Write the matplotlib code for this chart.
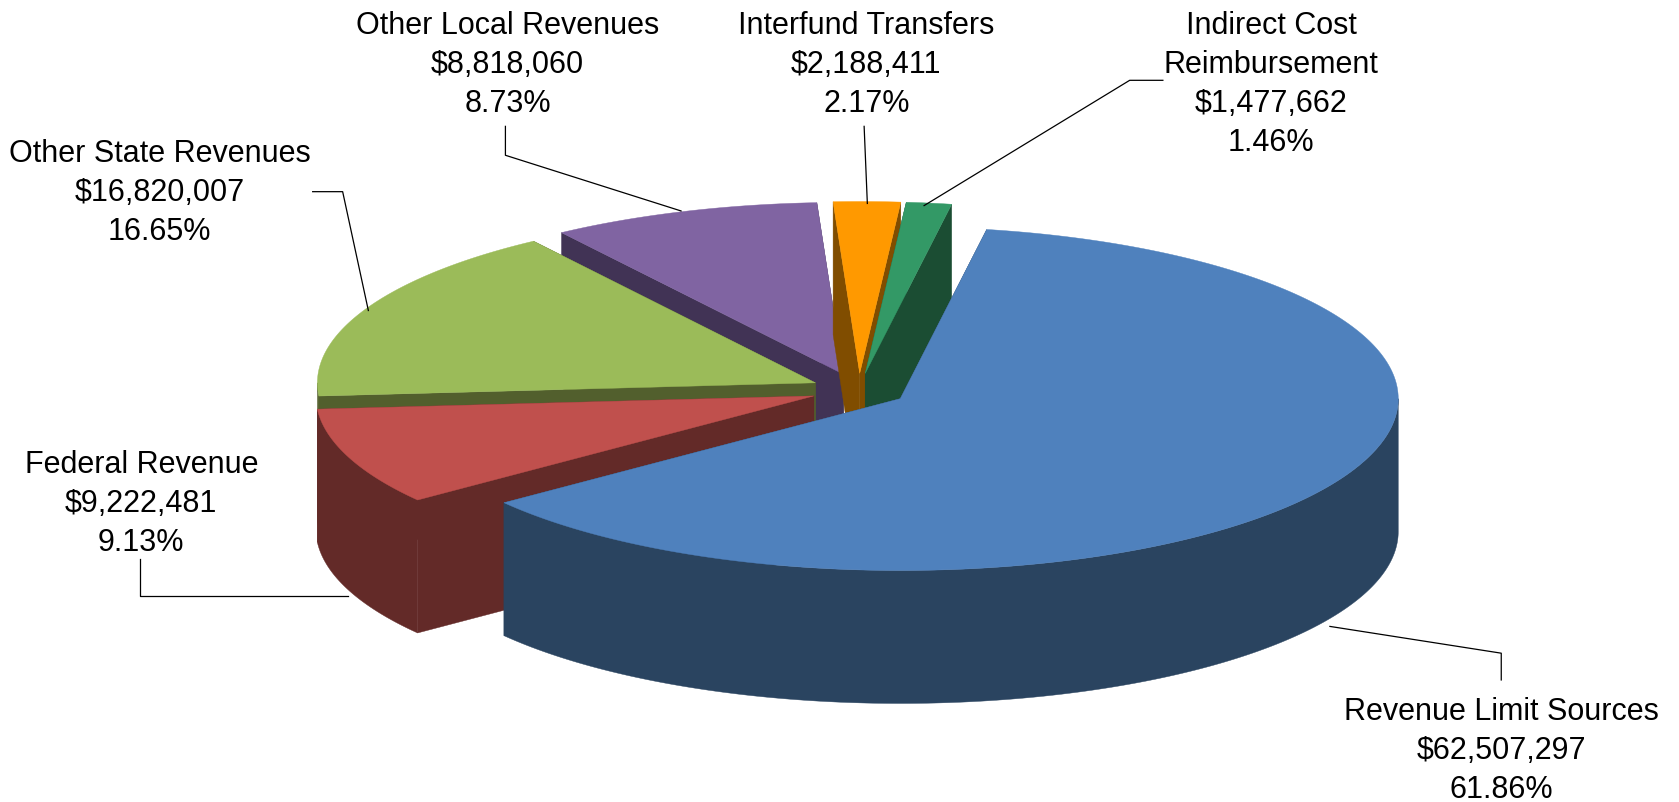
import numpy as np
import matplotlib
matplotlib.use("Agg")
import matplotlib.pyplot as plt
from matplotlib.patches import Polygon

plt.rcParams["font.family"] = ["Liberation Sans", "DejaVu Sans"]

# Data, in clockwise order from the first slice
names = ["Revenue Limit Sources", "Federal Revenue", "Other State Revenues",
         "Other Local Revenues", "Interfund Transfers", "Indirect Cost\nReimbursement"]
amounts = [62507297, 9222481, 16820007, 8818060, 2188411, 1477662]
percents = ["61.86%", "9.13%", "16.65%", "8.73%", "2.17%", "1.46%"]

top_colors = ["#4F81BD", "#C0504D", "#9BBB59", "#8064A2", "#FF9900", "#339966"]
side_colors = ["#2A4460", "#632A28", "#525F2D", "#413355", "#804D00", "#1B4D33"]

W, H = 1679, 802
SCALE = 1679 / 1568  # label positions
R_PX = 498
CX, CY = 859, 390
TILT = 0.345
DEPTH = 0.267
EXPLODE = 0.097
START = 10.0
draw_order = [3, 2, 4, 5, 1, 0]


def px(x, y):
    # shrunk picture pixels -> data units
    return (x * SCALE - CX) / R_PX, (CY - y * SCALE) / R_PX


def rim_xy(t, dx=0, dy=0):
    t = np.radians(t)
    return dx + np.sin(t), dy + np.cos(t) * TILT


fig = plt.figure(figsize=(W / 100, H / 100), dpi=100)
ax = fig.add_axes([0, 0, 1, 1])
ax.set_xlim(-CX / R_PX, (W - CX) / R_PX)
ax.set_ylim((CY - H) / R_PX, CY / R_PX)
ax.axis("off")

sweeps = np.array(amounts) / sum(amounts) * 360
starts = START + np.concatenate([[0], np.cumsum(sweeps)[:-1]])

for i in draw_order:
    t0, t1 = starts[i], starts[i] + sweeps[i]
    mid = np.radians((t0 + t1) / 2)
    dx = EXPLODE * np.sin(mid)
    dy = EXPLODE * np.cos(mid) * TILT
    side = side_colors[i]

    # radial walls
    for t in (t0, t1):
        ex, ey = rim_xy(t, dx, dy)
        wall = [(dx, dy), (ex, ey), (ex, ey - DEPTH), (dx, dy - DEPTH)]
        ax.add_patch(Polygon(wall, closed=True, fc=side, ec=side, lw=0.3))

    # outer wall, front half only
    a, b = max(t0, 90), min(t1, 270)
    if b > a:
        ts = np.linspace(a, b, 200)
        xs, ys = rim_xy(ts, dx, dy)
        outer = np.vstack([np.column_stack([xs, ys]),
                           np.column_stack([xs, ys - DEPTH])[::-1]])
        ax.add_patch(Polygon(outer, closed=True, fc=side, ec=side, lw=0.3))

    # top face
    ts = np.linspace(t0, t1, 300)
    xs, ys = rim_xy(ts, dx, dy)
    top = np.vstack([[dx, dy], np.column_stack([xs, ys])])
    ax.add_patch(Polygon(top, closed=True, fc=top_colors[i], ec=top_colors[i], lw=0.3))

# Labels
label_pos = [(1402, 663), (132, 432), (149, 142), (474, 22), (809, 22), (1187, 22)]
for name, amt, pct, (lx, ly) in zip(names, amounts, percents, label_pos):
    x, y = px(lx, ly - 12)
    ax.text(x, y, f"{name}\n${amt:,}\n{pct}", ha="center", va="top", fontsize=22,
            color="black", linespacing=1.39)

# Leader lines
leaders = [
    [(1402, 635), (1402, 610), (1242, 585)],
    [(131, 522), (131, 557), (325, 557)],
    [(292, 179), (320, 179), (344, 290)],
    [(472, 118), (472, 145), (636, 197)],
    [(807, 118), (810, 190)],
    [(1086, 75), (1055, 75), (863, 192)],
]
for pts in leaders:
    xy = np.array([px(*p) for p in pts])
    ax.plot(xy[:, 0], xy[:, 1], color="black", lw=0.9)

fig.savefig("out.png", dpi=100)
